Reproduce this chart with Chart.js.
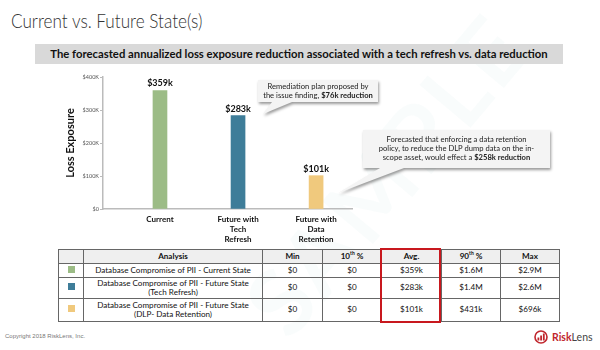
<!DOCTYPE html>
<html>
<head>
<meta charset="utf-8">
<script src="https://cdn.jsdelivr.net/npm/chart.js@4.4.1/dist/chart.umd.min.js"></script>
<style>
  body { margin: 0; width: 600px; height: 350px; background: #fff; font-family: Lato, 'Open Sans', sans-serif; position: relative; overflow: hidden; }
  #title { position: absolute; left: 11px; top: 8px; font-size: 19.5px; font-weight: 300; color: #333; line-height: 26px; transform: scaleX(0.88); transform-origin: left top; white-space: nowrap; }
  #banner { position: absolute; left: 35px; top: 44px; width: 528px; height: 20px; background: #d9d9d9; text-align: center; font-size: 11.3px; font-weight: bold; line-height: 20px; color: #111; }
  #watermark { position: absolute; left: 195px; top: 118px; font-size: 92px; font-weight: bold; color: rgba(90, 190, 190, 0.04); transform: rotate(-50deg); letter-spacing: 4px; }
  #chartbox { position: absolute; left: 0; top: 66px; width: 600px; height: 182px; }
  table { position: absolute; left: 58px; top: 249px; border-collapse: collapse; font-size: 8.1px; color: #111; table-layout: fixed; }
  td, th { border: 1.5px solid #666; text-align: center; padding: 0; line-height: 9.5px; }
  th { background: #efefef; height: 13px; font-weight: bold; }
  sup { font-size: 5px; line-height: 0; }
  .sw { display: inline-block; width: 7px; height: 7px; }
  #avgbox { position: absolute; left: 380px; top: 248px; width: 57px; height: 71px; border: 2px solid #c8181e; }
  #copy { position: absolute; left: 5px; top: 333px; font-size: 6px; color: #777; font-family: 'Liberation Sans', sans-serif; }
  #logo { position: absolute; left: 533px; top: 330px; height: 14px; display: flex; align-items: center; font-size: 10.5px; }
  #logo b { color: #c0262d; margin-left: 2px; }
  #logo span { color: #444; }
</style>
</head>
<body>
<div id="watermark">SAMPLE</div>
<div id="title">Current vs. Future State(s)</div>
<div id="banner">The forecasted annualized loss exposure reduction associated with a tech refresh vs. data reduction</div>
<div id="chartbox"><canvas id="bar_chart"></canvas></div>
<table id="stats"></table>
<div id="avgbox"></div>
<div id="copy">Copyright 2018 RiskLens, Inc.</div>
<div id="logo">
  <svg width="17" height="14" viewBox="0 0 17 14">
    <circle cx="8" cy="7" r="6" fill="none" stroke="#c0262d" stroke-width="1.6"/>
    <rect x="4.5" y="7.5" width="1.8" height="3" fill="#c0262d"/>
    <rect x="7.2" y="5.5" width="1.8" height="5" fill="#c0262d"/>
    <rect x="9.9" y="3.5" width="1.8" height="7" fill="#c0262d"/>
  </svg>
  <b>Risk</b><span>Lens</span>
</div>
<script>
// chart data
const categories = [['Current'], ['Future with', 'Tech', 'Refresh'], ['Future with', 'Data', 'Retention']];
const avgLoss = [359000, 283000, 101000];
const barColors = ['rgb(156, 188, 134)', 'rgb(62, 125, 153)', 'rgb(240, 201, 125)'];
const yTicks = [0, 100000, 200000, 300000, 400000];

// table data
const rowNames = [
    ['Database Compromise of PII  - Current State'],
    ['Database Compromise of PII  - Future State', '(Tech Refresh)'],
    ['Database Compromise of PII  - Future State', '(DLP- Data Retention)']
];
const minVals = ['$0', '$0', '$0'];
const p10Vals = ['$0', '$0', '$0'];
const avgVals = ['$359k', '$283k', '$101k'];
const p90Vals = ['$1.6M', '$1.4M', '$431k'];
const maxVals = ['$2.9M', '$2.6M', '$696k'];

// callout texts, [text, bold]
const callouts = [
    { box: [258, 14, 120, 22], tip: [263, 48], base: [272, 292],
      lines: [[['Remediation plan proposed by', false]], [['the issue finding, ', false], ['$76k reduction', true]]] },
    { box: [363, 64, 187, 38], tip: [338, 127], base: [380, 404],
      lines: [[['Forecasted that enforcing a data retention', false]],
              [['policy, to reduce the DLP dump data on the in-', false]],
              [['scope asset, would effect a ', false], ['$258k reduction', true]]] }
];

function buildTable() {
    let t = document.getElementById('stats');
    let widths = [25, 179, 60, 59, 60, 59, 59];
    let html = '<colgroup>' + widths.map(w => `<col style="width:${w}px">`).join('') + '</colgroup>';
    html += '<tr><th></th><th>Analysis</th><th>Min</th><th>10<sup>th</sup> %</th><th>Avg.</th><th>90<sup>th</sup> %</th><th>Max</th></tr>';
    let heights = [14, 21, 23];
    for (let i = 0; i < rowNames.length; i++) {
        html += `<tr style="height:${heights[i]}px"><td><span class="sw" style="background:${barColors[i]}"></span></td>`
            + `<td>${rowNames[i].join('<br>')}</td><td>${minVals[i]}</td><td>${p10Vals[i]}</td>`
            + `<td>${avgVals[i]}</td><td>${p90Vals[i]}</td><td>${maxVals[i]}</td></tr>`;
    }
    t.innerHTML = html;
}

function fmtK(v) {
    return v === 0 ? '$0' : '$' + (v / 1000) + 'K';
}

// value labels above the bars
const barLabels = {
    id: 'barLabels',
    afterDatasetsDraw(chart) {
        let ctx = chart.ctx;
        let meta = chart.getDatasetMeta(0);
        ctx.save();
        ctx.font = 'bold 9px Lato';
        ctx.fillStyle = '#111';
        ctx.textAlign = 'center';
        ctx.textBaseline = 'middle';
        meta.data.forEach((bar, i) => {
            ctx.fillText('$' + Math.round(avgLoss[i] / 1000) + 'k', bar.x, bar.y - 7);
        });
        ctx.restore();
    }
};

// speech bubble callouts
const calloutPlugin = {
    id: 'callouts',
    afterDraw(chart) {
        let ctx = chart.ctx;
        callouts.forEach(c => {
            let [x, y, w, h] = c.box;
            ctx.save();
            ctx.shadowColor = 'rgba(0,0,0,0.4)';
            ctx.shadowBlur = 3;
            ctx.shadowOffsetX = 1;
            ctx.shadowOffsetY = 2;
            ctx.fillStyle = '#f4f4f4';
            ctx.beginPath();
            ctx.moveTo(x, y);
            ctx.lineTo(x + w, y);
            ctx.lineTo(x + w, y + h);
            ctx.lineTo(c.base[1], y + h);
            ctx.lineTo(c.tip[0], c.tip[1]);
            ctx.lineTo(c.base[0], y + h);
            ctx.lineTo(x, y + h);
            ctx.closePath();
            ctx.fill();
            ctx.restore();

            ctx.save();
            ctx.fillStyle = '#222';
            ctx.textBaseline = 'middle';
            let lh = 9;
            let y0 = y + h / 2 - (c.lines.length - 1) * lh / 2;
            c.lines.forEach((line, li) => {
                let total = 0;
                line.forEach(seg => {
                    ctx.font = (seg[1] ? 'bold ' : '') + '7.6px Lato';
                    total += ctx.measureText(seg[0]).width;
                });
                let cx = x + w / 2 - total / 2;
                line.forEach(seg => {
                    ctx.font = (seg[1] ? 'bold ' : '') + '7.6px Lato';
                    ctx.fillText(seg[0], cx, y0 + li * lh);
                    cx += ctx.measureText(seg[0]).width;
                });
            });
            ctx.restore();
        });
    }
};

function loadChart() {
    let chart = document.getElementById('bar_chart');
    let data = {
        labels: categories,
        datasets: [{
            label: 'Avg. Loss Exposure',
            backgroundColor: barColors,
            data: avgLoss,
            barThickness: 14
        }]
    };
    let options = {
        responsive: true,
        maintainAspectRatio: false,
        animation: false,
        layout: { padding: { left: 60, right: 248, top: 11, bottom: 0 } },
        plugins: { legend: { display: false }, tooltip: { enabled: false } },
        scales: {
            x: {
                grid: { display: false, drawTicks: false },
                border: { color: '#bbb', width: 1.5 },
                ticks: { color: '#111', font: { family: 'Lato', size: 8, weight: 'bold', lineHeight: 1.2 }, padding: 6, maxRotation: 0 },
                afterFit(scale) { scale.height = 39; },
                // bars sit off-centre on the axis in the original
                afterUpdate(scale) { scale._startValue = -0.73; scale._valueRange = 3.19; }
            },
            y: {
                min: 0,
                max: 400000,
                afterBuildTicks(scale) { scale.ticks = yTicks.map(v => ({ value: v })); },
                grid: { drawOnChartArea: false, tickLength: 3, color: '#bbb' },
                border: { color: '#bbb', width: 1.5 },
                ticks: { color: '#555', font: { family: 'Lato', size: 5.5 }, padding: 1, callback: v => fmtK(v) },
                title: { display: true, text: 'Loss Exposure', color: '#111', font: { family: 'Lato', size: 11, weight: 'bold' }, padding: { top: 4, bottom: 0 } },
                afterFit(scale) { scale.width = 43; }
            }
        }
    };
    new Chart(chart, { type: 'bar', data, options, plugins: [barLabels, calloutPlugin] });
}

buildTable();
loadChart();
</script>
</body>
</html>
